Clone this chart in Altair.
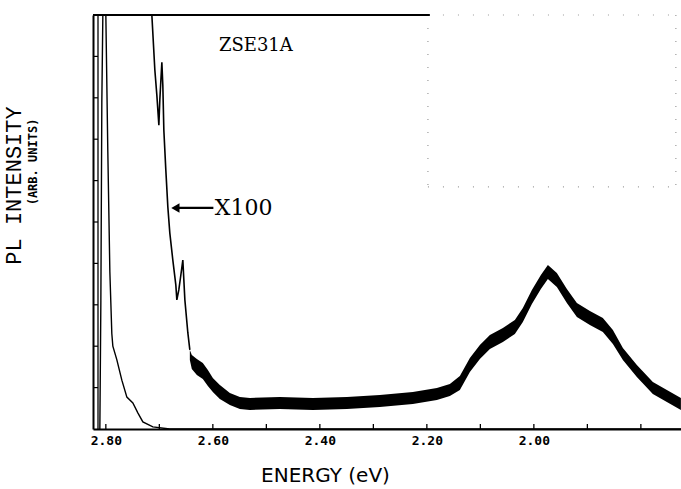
import altair as alt
import pandas as pd

# ---- data (energy in eV, intensity in arb. units 0..100) ----
# main (x1) emission line near the band edge
main_e = [2.8112, 2.8093, 2.8075, 2.8056, 2.8037, 2.8000, 2.7963, 2.7925, 2.7888, 2.7869,
          2.7794, 2.7701, 2.7607, 2.7495, 2.7402, 2.7308, 2.7121, 2.6804, 1.7250]
main_i = [0.0, 31.0, 79.0, 100.0, 115.0, 100.0, 67.0, 38.0, 23.0, 20.0,
          16.7, 11.8, 7.7, 6.3, 3.9, 1.7, 0.5, 0.0, 0.0]

# X100 trace, clean (thin) part on the high-energy side
x100_e = [2.7159, 2.7140, 2.7084, 2.7047, 2.7009, 2.6991, 2.6953, 2.6935, 2.6916, 2.6879,
          2.6841, 2.6804, 2.6748, 2.6692, 2.6673, 2.6636, 2.6598, 2.6561, 2.6523, 2.6467, 2.6430]
x100_i = [105.0, 100.0, 86.7, 80.7, 73.4, 79.5, 88.6, 83.1, 72.2, 62.6,
          53.6, 47.3, 40.8, 34.8, 31.2, 33.6, 37.2, 40.8, 31.2, 23.2, 19.1]

# X100 trace, noisy part: upper / lower envelope of the noise band
band_e = [2.6430, 2.6393, 2.6299, 2.6187, 2.6093, 2.6000, 2.5869, 2.5682, 2.5495, 2.5308,
          2.4748, 2.4131, 2.3495, 2.2879, 2.2262, 2.1813, 2.1570, 2.1383, 2.1196, 2.1009,
          2.0822, 2.0579, 2.0355, 2.0206, 2.0037, 1.9869, 1.9738, 1.9570, 1.9383, 1.9196,
          1.8953, 1.8710, 1.8523, 1.8336, 1.8075, 1.7776, 1.7514, 1.7252]
band_hi = [19.08, 17.87, 16.91, 15.94, 14.25, 12.32, 10.63, 8.70, 7.73, 7.49,
           7.73, 7.49, 7.73, 8.21, 8.94, 9.90, 10.87, 12.80, 17.15, 20.29,
           22.71, 24.40, 26.33, 29.23, 33.57, 37.20, 39.61, 37.68, 33.82, 30.43,
           28.50, 26.81, 23.91, 19.57, 15.46, 11.35, 9.42, 7.49]
band_lo = [16.67, 14.49, 13.04, 12.08, 10.39, 8.94, 7.25, 5.80, 4.83, 4.59,
           4.83, 4.59, 4.83, 5.31, 6.04, 7.00, 7.97, 9.42, 13.77, 16.91,
           19.32, 21.01, 22.95, 25.85, 30.19, 33.82, 36.23, 34.30, 30.43, 27.05,
           25.12, 23.43, 20.53, 16.67, 12.56, 8.45, 6.52, 4.59]

x_ticks = [2.8, 2.7, 2.6, 2.5, 2.4, 2.3, 2.2, 2.1, 2.0, 1.9, 1.8]
x_labels = [2.8, 2.6, 2.4, 2.2, 2.0]
y_ticks = [10, 20, 30, 40, 50, 60, 70, 80, 90]

E_MIN, E_MAX = 1.725, 2.824
TOP_FRAME_END = 2.1944

xs = alt.Scale(domain=[E_MIN, E_MAX], reverse=True, nice=False, zero=False)
ys = alt.Scale(domain=[0, 100], nice=False, zero=False)

main_df = pd.DataFrame({"E": main_e, "I": main_i})
x100_df = pd.DataFrame({"E": x100_e, "I": x100_i})
band_df = pd.DataFrame({"E": band_e, "hi": band_hi, "lo": band_lo})

xaxis = alt.Axis(values=x_labels, format=".2f", ticks=False, grid=False,
                 domainColor="black", domainWidth=2,
                 labelFont="DejaVu Sans Mono", labelFontWeight="bold", labelFontSize=13,
                 labelColor="black", labelPadding=5,
                 title="ENERGY (eV)", titleFont="DejaVu Sans", titleFontWeight="normal",
                 titleFontSize=20, titleColor="black", titleX=232, titleY=46,
                 titleAnchor="start", titleAlign="center", titleBaseline="middle")
yaxis = alt.Axis(labels=False, ticks=False, grid=False, domainColor="black", domainWidth=2,
                 title="PL INTENSITY", titleFont="Liberation Mono", titleFontWeight="normal",
                 titleFontSize=22, titleColor="black", titleX=-80, titleY=170,
                 titleAlign="center", titleBaseline="middle", titleAngle=270)

main_line = alt.Chart(main_df).mark_line(color="black", strokeWidth=1.4, clip=True).encode(
    x=alt.X("E:Q", scale=xs, axis=xaxis),
    y=alt.Y("I:Q", scale=ys, axis=yaxis),
    order="E:Q",
)

x100_line = alt.Chart(x100_df).mark_line(color="black", strokeWidth=1.6, clip=True).encode(
    x=alt.X("E:Q", scale=xs), y=alt.Y("I:Q", scale=ys), order=alt.Order("E:Q", sort="descending"),
)

band = alt.Chart(band_df).mark_area(color="black", clip=True).encode(
    x=alt.X("E:Q", scale=xs), y=alt.Y("hi:Q", scale=ys), y2="lo:Q",
)

# inward ticks on the energy axis
xt = alt.Chart(pd.DataFrame({"E": x_ticks})).mark_rule(color="black", strokeWidth=1.3).encode(
    x=alt.X("E:Q", scale=xs), y=alt.value(414), y2=alt.value(409))

# double left frame with ticks between the two lines
yt = alt.Chart(pd.DataFrame({"I": y_ticks})).mark_rule(color="black", strokeWidth=1.2).encode(
    y=alt.Y("I:Q", scale=ys), x=alt.value(0), x2=alt.value(5))
inner_frame = alt.Chart(pd.DataFrame({"a": [0]})).mark_rule(color="black", strokeWidth=1.3).encode(
    x=alt.value(5), y=alt.value(0), y2=alt.value(414))

# top frame (only on the left part)
top_frame = alt.Chart(pd.DataFrame({"e0": [E_MAX], "e1": [TOP_FRAME_END]})).mark_rule(
    color="black", strokeWidth=2).encode(
    x=alt.X("e0:Q", scale=xs), x2="e1:Q", y=alt.value(0))

# faint ghost of an inset box (upper right)
ghost_h = pd.DataFrame({"e0": [2.198, 2.198], "e1": [1.7346, 1.7346], "I": [100.0, 58.5]})
ghost_v = pd.DataFrame({"E": [2.198, 1.7346], "i0": [100.0, 100.0], "i1": [58.5, 58.5]})
gh = alt.Chart(ghost_h).mark_rule(color="#9a9a9a", strokeWidth=1.2, strokeDash=[1, 14]).encode(
    x=alt.X("e0:Q", scale=xs), x2="e1:Q", y=alt.Y("I:Q", scale=ys))
gv = alt.Chart(ghost_v).mark_rule(color="#9a9a9a", strokeWidth=1.2, strokeDash=[1, 12]).encode(
    x=alt.X("E:Q", scale=xs), y=alt.Y("i0:Q", scale=ys), y2="i1:Q")

# annotations
sample = alt.Chart(pd.DataFrame({"E": [2.5196], "I": [92.5], "t": ["ZSE31A"]})).mark_text(
    font="DejaVu Serif", fontSize=18, color="black", align="center", baseline="middle").encode(
    x=alt.X("E:Q", scale=xs), y=alt.Y("I:Q", scale=ys), text="t:N")
mult = alt.Chart(pd.DataFrame({"E": [2.5963], "I": [53.4], "t": ["X100"]})).mark_text(
    font="DejaVu Serif", fontSize=22, color="black", align="left", baseline="middle").encode(
    x=alt.X("E:Q", scale=xs), y=alt.Y("I:Q", scale=ys), text="t:N")
arrow_line = alt.Chart(pd.DataFrame({"e0": [2.5990], "e1": [2.6700], "I": [53.4]})).mark_rule(
    color="black", strokeWidth=2.2).encode(
    x=alt.X("e0:Q", scale=xs), x2="e1:Q", y=alt.Y("I:Q", scale=ys))
arrow_head = alt.Chart(pd.DataFrame({"E": [2.6700], "I": [53.4]})).mark_point(
    shape="triangle-left", filled=True, color="black", size=90, opacity=1).encode(
    x=alt.X("E:Q", scale=xs), y=alt.Y("I:Q", scale=ys))

units = alt.Chart(pd.DataFrame({"t": ["(ARB. UNITS)"]})).mark_text(
    font="DejaVu Sans Mono", fontWeight="bold", fontSize=12, color="black", angle=270,
    align="center", baseline="middle").encode(
    x=alt.value(-60), y=alt.value(147), text="t:N")

chart = alt.layer(
    main_line, gh, gv, band, x100_line, xt, yt, inner_frame, top_frame,
    sample, mult, arrow_line, arrow_head, units,
).properties(
    width=588, height=414,
    padding={"left": 93, "top": 15, "right": 0, "bottom": 60},
    autosize=alt.AutoSizeParams(type="none"),
    background="white",
).configure_view(stroke=None)

chart.save("out.html", embed_options={"renderer": "svg", "actions": False})
